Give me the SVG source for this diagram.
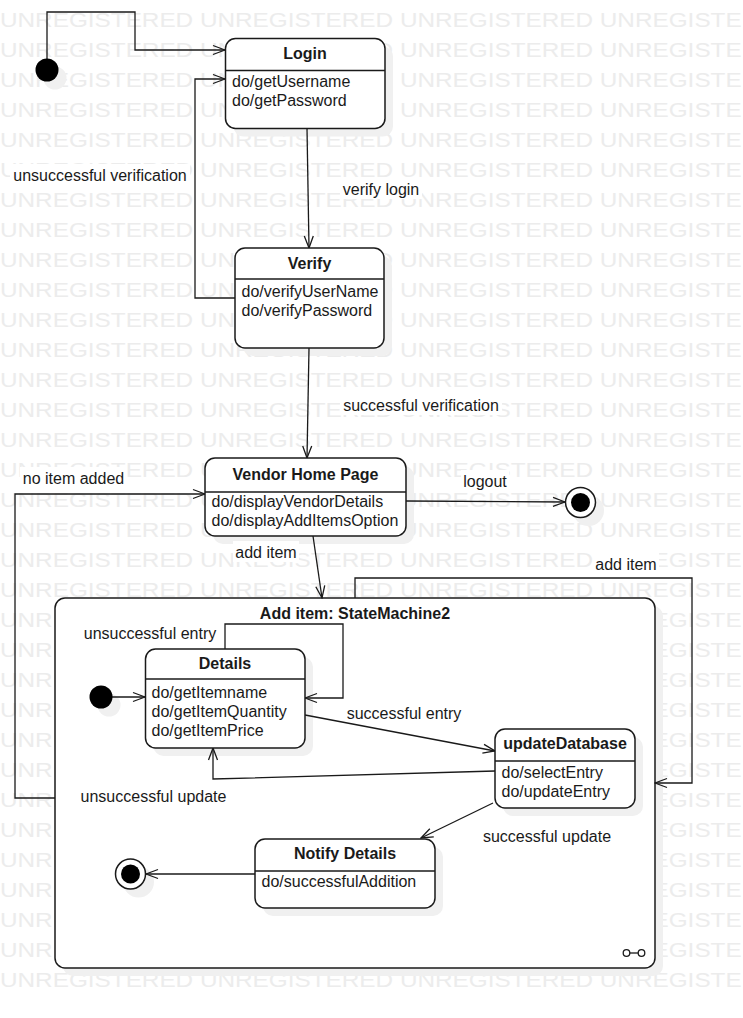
<svg xmlns="http://www.w3.org/2000/svg" width="743" height="1018" viewBox="0 0 743 1018">
<defs>
<style>
.wm{font-family:"Liberation Sans",Arial,sans-serif;font-size:20px;fill:#ececec}
.t{font-family:"Liberation Sans",Arial,sans-serif;font-size:16px;fill:#1a1a1a}
.b{font-weight:bold;text-anchor:middle}
.m{text-anchor:middle}
.box{fill:#fff;stroke:#1a1a1a;stroke-width:1.5}
.sh{fill:#f0f0f0}
.div{stroke:#1a1a1a;stroke-width:1.5}
.c{fill:none;stroke:#1a1a1a;stroke-width:1.3;marker-end:url(#arr)}
.lb{fill:#fff}
</style>
<marker id="arr" markerUnits="userSpaceOnUse" markerWidth="14" markerHeight="12" refX="13" refY="6" orient="auto" viewBox="0 0 14 12">
<path d="M1,1.5 L13,6 L1,10.5" fill="none" stroke="#1a1a1a" stroke-width="1.3"/>
</marker>
</defs>
<rect width="743" height="1018" fill="#fff"/>
<g id="watermark">
<text class="wm" x="0" y="27" textLength="793" lengthAdjust="spacingAndGlyphs">UNREGISTERED UNREGISTERED UNREGISTERED UNREGISTERED</text>
<text class="wm" x="0" y="57" textLength="793" lengthAdjust="spacingAndGlyphs">UNREGISTERED UNREGISTERED UNREGISTERED UNREGISTERED</text>
<text class="wm" x="0" y="87" textLength="793" lengthAdjust="spacingAndGlyphs">UNREGISTERED UNREGISTERED UNREGISTERED UNREGISTERED</text>
<text class="wm" x="0" y="117" textLength="793" lengthAdjust="spacingAndGlyphs">UNREGISTERED UNREGISTERED UNREGISTERED UNREGISTERED</text>
<text class="wm" x="0" y="147" textLength="793" lengthAdjust="spacingAndGlyphs">UNREGISTERED UNREGISTERED UNREGISTERED UNREGISTERED</text>
<text class="wm" x="0" y="177" textLength="793" lengthAdjust="spacingAndGlyphs">UNREGISTERED UNREGISTERED UNREGISTERED UNREGISTERED</text>
<text class="wm" x="0" y="207" textLength="793" lengthAdjust="spacingAndGlyphs">UNREGISTERED UNREGISTERED UNREGISTERED UNREGISTERED</text>
<text class="wm" x="0" y="237" textLength="793" lengthAdjust="spacingAndGlyphs">UNREGISTERED UNREGISTERED UNREGISTERED UNREGISTERED</text>
<text class="wm" x="0" y="267" textLength="793" lengthAdjust="spacingAndGlyphs">UNREGISTERED UNREGISTERED UNREGISTERED UNREGISTERED</text>
<text class="wm" x="0" y="297" textLength="793" lengthAdjust="spacingAndGlyphs">UNREGISTERED UNREGISTERED UNREGISTERED UNREGISTERED</text>
<text class="wm" x="0" y="327" textLength="793" lengthAdjust="spacingAndGlyphs">UNREGISTERED UNREGISTERED UNREGISTERED UNREGISTERED</text>
<text class="wm" x="0" y="357" textLength="793" lengthAdjust="spacingAndGlyphs">UNREGISTERED UNREGISTERED UNREGISTERED UNREGISTERED</text>
<text class="wm" x="0" y="387" textLength="793" lengthAdjust="spacingAndGlyphs">UNREGISTERED UNREGISTERED UNREGISTERED UNREGISTERED</text>
<text class="wm" x="0" y="417" textLength="793" lengthAdjust="spacingAndGlyphs">UNREGISTERED UNREGISTERED UNREGISTERED UNREGISTERED</text>
<text class="wm" x="0" y="447" textLength="793" lengthAdjust="spacingAndGlyphs">UNREGISTERED UNREGISTERED UNREGISTERED UNREGISTERED</text>
<text class="wm" x="0" y="477" textLength="793" lengthAdjust="spacingAndGlyphs">UNREGISTERED UNREGISTERED UNREGISTERED UNREGISTERED</text>
<text class="wm" x="0" y="507" textLength="793" lengthAdjust="spacingAndGlyphs">UNREGISTERED UNREGISTERED UNREGISTERED UNREGISTERED</text>
<text class="wm" x="0" y="537" textLength="793" lengthAdjust="spacingAndGlyphs">UNREGISTERED UNREGISTERED UNREGISTERED UNREGISTERED</text>
<text class="wm" x="0" y="567" textLength="793" lengthAdjust="spacingAndGlyphs">UNREGISTERED UNREGISTERED UNREGISTERED UNREGISTERED</text>
<text class="wm" x="0" y="597" textLength="793" lengthAdjust="spacingAndGlyphs">UNREGISTERED UNREGISTERED UNREGISTERED UNREGISTERED</text>
<text class="wm" x="0" y="627" textLength="793" lengthAdjust="spacingAndGlyphs">UNREGISTERED UNREGISTERED UNREGISTERED UNREGISTERED</text>
<text class="wm" x="0" y="657" textLength="793" lengthAdjust="spacingAndGlyphs">UNREGISTERED UNREGISTERED UNREGISTERED UNREGISTERED</text>
<text class="wm" x="0" y="687" textLength="793" lengthAdjust="spacingAndGlyphs">UNREGISTERED UNREGISTERED UNREGISTERED UNREGISTERED</text>
<text class="wm" x="0" y="717" textLength="793" lengthAdjust="spacingAndGlyphs">UNREGISTERED UNREGISTERED UNREGISTERED UNREGISTERED</text>
<text class="wm" x="0" y="747" textLength="793" lengthAdjust="spacingAndGlyphs">UNREGISTERED UNREGISTERED UNREGISTERED UNREGISTERED</text>
<text class="wm" x="0" y="777" textLength="793" lengthAdjust="spacingAndGlyphs">UNREGISTERED UNREGISTERED UNREGISTERED UNREGISTERED</text>
<text class="wm" x="0" y="807" textLength="793" lengthAdjust="spacingAndGlyphs">UNREGISTERED UNREGISTERED UNREGISTERED UNREGISTERED</text>
<text class="wm" x="0" y="837" textLength="793" lengthAdjust="spacingAndGlyphs">UNREGISTERED UNREGISTERED UNREGISTERED UNREGISTERED</text>
<text class="wm" x="0" y="867" textLength="793" lengthAdjust="spacingAndGlyphs">UNREGISTERED UNREGISTERED UNREGISTERED UNREGISTERED</text>
<text class="wm" x="0" y="897" textLength="793" lengthAdjust="spacingAndGlyphs">UNREGISTERED UNREGISTERED UNREGISTERED UNREGISTERED</text>
<text class="wm" x="0" y="927" textLength="793" lengthAdjust="spacingAndGlyphs">UNREGISTERED UNREGISTERED UNREGISTERED UNREGISTERED</text>
<text class="wm" x="0" y="957" textLength="793" lengthAdjust="spacingAndGlyphs">UNREGISTERED UNREGISTERED UNREGISTERED UNREGISTERED</text>
<text class="wm" x="0" y="987" textLength="793" lengthAdjust="spacingAndGlyphs">UNREGISTERED UNREGISTERED UNREGISTERED UNREGISTERED</text>
</g>
<g id="shadows">
<circle class="sh" cx="55" cy="78" r="11.5"/>
<rect class="sh" x="233.5" y="46.5" width="159.5" height="90" rx="10"/>
<rect class="sh" x="243" y="256" width="149" height="100" rx="10"/>
<rect class="sh" x="213" y="466" width="201" height="78" rx="10"/>
<circle class="sh" cx="588.5" cy="510.5" r="15.5"/>
<rect class="sh" x="63" y="606" width="600" height="370" rx="10"/>
</g>
<g id="container">
<rect class="box" x="55" y="598" width="600" height="370" rx="10"/>
<text class="t b" x="355" y="619">Add item: StateMachine2</text>
<circle cx="626.5" cy="953" r="3.3" fill="#fff" stroke="#1a1a1a" stroke-width="1.3"/>
<circle cx="641.5" cy="953" r="3.3" fill="#fff" stroke="#1a1a1a" stroke-width="1.3"/>
<line x1="629.8" y1="953" x2="638.2" y2="953" stroke="#1a1a1a" stroke-width="1.3"/>
</g>
<g id="inner-shadows">
<circle class="sh" cx="109" cy="705" r="11.5"/>
<rect class="sh" x="153.5" y="657" width="159.5" height="99" rx="10"/>
<rect class="sh" x="503" y="737" width="140" height="79" rx="10"/>
<rect class="sh" x="263" y="847" width="180" height="69" rx="10"/>
<circle class="sh" cx="138.5" cy="882" r="15.5"/>
</g>
<g id="connectors">
<path class="c" d="M47,59 V12 H135 V50 H225"/>
<path class="c" d="M307,128 L309,248"/>
<path class="c" d="M235,298 H195 V79 H225"/>
<path class="c" d="M309,348 L307,458"/>
<path class="c" d="M406,501 L565,502"/>
<path class="c" d="M313,536 L322,598"/>
<path class="c" d="M55,798 H15 V494 H205"/>
<path class="c" d="M355,598 V578 H692 V783 H655"/>
<path class="c" d="M112,697 H145"/>
<path class="c" d="M225,649 V624 H343 V698 H305"/>
<path class="c" d="M305,715 L495,751"/>
<path class="c" d="M495,771 L213,779 V748"/>
<path class="c" d="M493,803 L421,838"/>
<path class="c" d="M255,874 H146"/>
</g>
<g id="labels">
<rect class="lb" x="10" y="164" width="180" height="21"/>
<text class="t m" x="100" y="181">unsuccessful verification</text>
<rect class="lb" x="340" y="178" width="82" height="21"/>
<text class="t m" x="381" y="195">verify login</text>
<rect class="lb" x="340" y="394" width="162" height="21"/>
<text class="t m" x="421" y="411">successful verification</text>
<rect class="lb" x="20" y="467" width="107" height="21"/>
<text class="t m" x="73.5" y="484">no item added</text>
<rect class="lb" x="461" y="470" width="48" height="21"/>
<text class="t m" x="485" y="487">logout</text>
<rect class="lb" x="233" y="541" width="66" height="21"/>
<text class="t m" x="266" y="558">add item</text>
<rect class="lb" x="593" y="553" width="66" height="21"/>
<text class="t m" x="626" y="570">add item</text>
<text class="t m" x="150" y="639">unsuccessful entry</text>
<text class="t m" x="404" y="719">successful entry</text>
<text class="t m" x="153.5" y="802">unsuccessful update</text>
<text class="t m" x="547" y="842">successful update</text>
</g>
<g id="init1"><circle cx="47" cy="70" r="11.5" fill="#000"/></g>
<g id="login">
<rect class="box" x="225.5" y="38.5" width="159.5" height="90" rx="10"/>
<line class="div" x1="225.5" y1="70.5" x2="385" y2="70.5"/>
<text class="t b" x="305" y="59">Login</text>
<text class="t" x="232" y="87">do/getUsername</text>
<text class="t" x="232" y="106">do/getPassword</text>
</g>
<g id="verify">
<rect class="box" x="235" y="248" width="149" height="100" rx="10"/>
<line class="div" x1="235" y1="279" x2="384" y2="279"/>
<text class="t b" x="309.5" y="269">Verify</text>
<text class="t" x="241.5" y="297">do/verifyUserName</text>
<text class="t" x="241.5" y="316">do/verifyPassword</text>
</g>
<g id="vendor">
<rect class="box" x="205" y="458" width="201" height="78" rx="10"/>
<line class="div" x1="205" y1="492" x2="406" y2="492"/>
<text class="t b" x="305.5" y="480">Vendor Home Page</text>
<text class="t" x="211.5" y="507">do/displayVendorDetails</text>
<text class="t" x="211.5" y="526">do/displayAddItemsOption</text>
</g>
<g id="final1">
<circle cx="580.5" cy="502.5" r="15" fill="#fff" stroke="#1a1a1a" stroke-width="1.5"/>
<circle cx="580.5" cy="502.5" r="9.5" fill="#000"/>
</g>
<g id="init2"><circle cx="101" cy="697" r="11.5" fill="#000"/></g>
<g id="details">
<rect class="box" x="145.5" y="649" width="159.5" height="99" rx="10"/>
<line class="div" x1="145.5" y1="679" x2="305" y2="679"/>
<text class="t b" x="225" y="669">Details</text>
<text class="t" x="151.5" y="698">do/getItemname</text>
<text class="t" x="151.5" y="717">do/getItemQuantity</text>
<text class="t" x="151.5" y="736">do/getItemPrice</text>
</g>
<g id="updateDatabase">
<rect class="box" x="495" y="729" width="140" height="79" rx="10"/>
<line class="div" x1="495" y1="761" x2="635" y2="761"/>
<text class="t b" x="565" y="749">updateDatabase</text>
<text class="t" x="501.5" y="778">do/selectEntry</text>
<text class="t" x="501.5" y="797">do/updateEntry</text>
</g>
<g id="notify">
<rect class="box" x="255" y="839" width="180" height="69" rx="10"/>
<line class="div" x1="255" y1="871" x2="435" y2="871"/>
<text class="t b" x="345" y="859">Notify Details</text>
<text class="t" x="261.5" y="887">do/successfulAddition</text>
</g>
<g id="final2">
<circle cx="130.5" cy="874" r="15" fill="#fff" stroke="#1a1a1a" stroke-width="1.5"/>
<circle cx="130.5" cy="874" r="9.5" fill="#000"/>
</g>
</svg>
